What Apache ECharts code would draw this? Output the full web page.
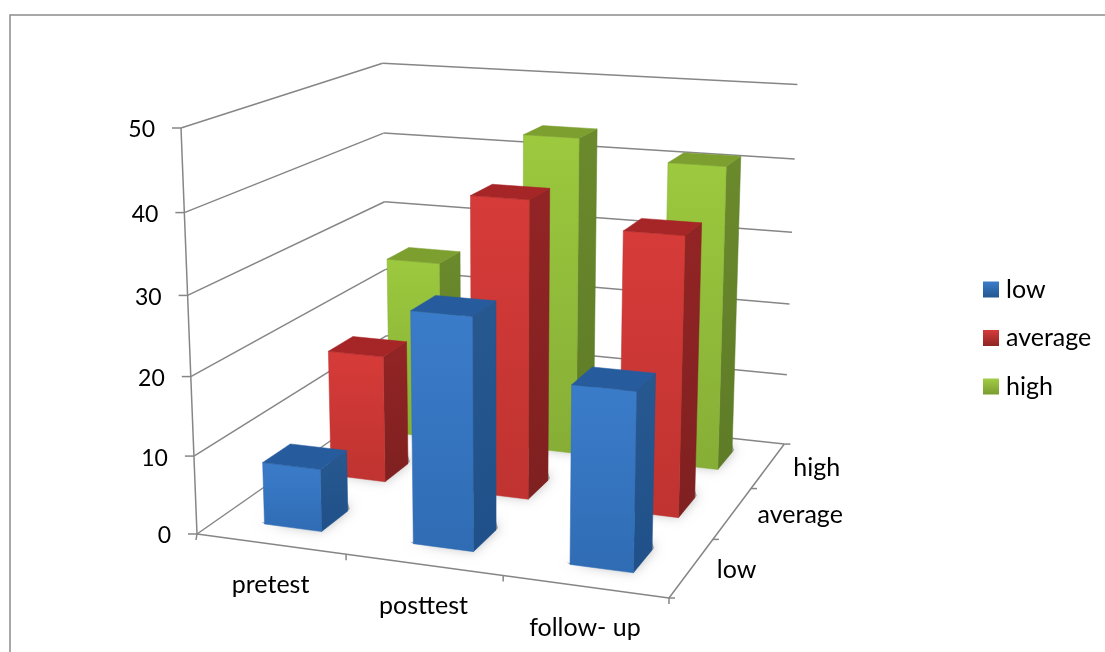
<!DOCTYPE html>
<html><head><meta charset="utf-8">
<style>html,body{margin:0;padding:0;background:#fff;overflow:hidden}#c{width:1105px;height:652px}</style>
<script src="https://cdn.jsdelivr.net/npm/echarts@6/dist/echarts.min.js"></script>
</head><body><div id="c"></div>
<script>
const categories = ['pretest', 'posttest', 'follow- up'];
const seriesNames = ['low', 'average', 'high'];
const valueTicks = [0, 10, 20, 30, 40, 50];
const low = [8, 29, 22];
const average = [17, 39, 36];
const high = [25, 43.5, 41];
const seriesValues = [low, average, high];

// Perspective frame of the 3D plot box (unit cube corners on screen)
const O = [197, 534], U = [669, 598], V = [387.5, 401], W = [181, 128];
const fits = [[1, 1, 1, 798, 84.5], [1, 1, 0, 784, 444], [0, 1, 1, 381, 63.5]];
function solvePerspective() {
  const rows = [];
  fits.forEach(([u, v, w, X, Y]) => {
    [[0, X], [1, Y]].forEach(([k, P]) => {
      rows.push([u * (U[k] - P), v * (V[k] - P), w * (W[k] - P),
        P - O[k] - u * (U[k] - O[k]) - v * (V[k] - O[k]) - w * (W[k] - O[k])]);
    });
  });
  const M = [0, 1, 2].map(i => [0, 1, 2, 3].map(j => rows.reduce((s, r) => s + r[i] * r[j], 0)));
  for (let i = 0; i < 3; i++) {
    let piv = i;
    for (let r = i + 1; r < 3; r++) if (Math.abs(M[r][i]) > Math.abs(M[piv][i])) piv = r;
    [M[i], M[piv]] = [M[piv], M[i]];
    for (let r = 0; r < 3; r++) if (r !== i) {
      const f = M[r][i] / M[i][i];
      for (let c = i; c < 4; c++) M[r][c] -= f * M[i][c];
    }
  }
  return [M[0][3] / M[0][0], M[1][3] / M[1][1], M[2][3] / M[2][2]];
}
const [pp, pq, pr] = solvePerspective();
function project(u, v, w) {
  const D = 1 + pp * u + pq * v + pr * w;
  return [0, 1].map(k => (O[k] + u * (U[k] * (1 + pp) - O[k]) + v * (V[k] * (1 + pq) - O[k]) + w * (W[k] * (1 + pr) - O[k])) / D);
}

const AXIS = '#868686', AW = 1.5, FONT = '25px Lato', VFONT = '23px Lato', TXT = '#000';
const grad = (a, b) => new echarts.graphic.LinearGradient(0, 0, 0, 1, [{ offset: 0, color: a }, { offset: 1, color: b }]);
const faces = [
  { front: ['#3b7cca', '#2f6cb4'], side: ['#27588f', '#205089'], top: '#265c9e', legend: ['#3a7ccb', '#24578f'] },
  { front: ['#d63b39', '#bf3330'], side: ['#932425', '#7f2020'], top: '#a62526', legend: ['#d43c3a', '#8e2424'] },
  { front: ['#9cc93e', '#86ae36'], side: ['#6b8a2c', '#5e7b27'], top: '#7c9f2f', legend: ['#a3cc46', '#7a9c30'] }
];
const line = (a, b) => ({ type: 'line', shape: { x1: a[0], y1: a[1], x2: b[0], y2: b[1] }, style: { stroke: AXIS, lineWidth: AW }, silent: true });
const label = (p, text, align, font) => ({ type: 'text', silent: true, style: { x: p[0], y: p[1], text, font: font || FONT, fill: TXT, align, verticalAlign: 'middle' } });
const poly = (pts, fill, extra) => ({ type: 'polygon', shape: { points: pts }, style: Object.assign({ fill }, extra || {}), silent: true });

function valueFrac(api, params, val) {
  const p = api.coord([0, val]);
  return (params.coordSys.y + params.coordSys.height - p[1]) / params.coordSys.height;
}
function catFrac(api, params, i) {
  const p = api.coord([i, 0]);
  return (p[0] - params.coordSys.x) / params.coordSys.width;
}
function renderValueTick(params, api) {
  const w = valueFrac(api, params, api.value(1));
  const a = project(0, 0, w), b = project(0, 1, w), c = project(1, 1, w);
  return { type: 'group', children: [
    line(a, b), line(b, c), line([a[0] - 9, a[1]], a),
    label([a[0] - 26, a[1] + 2], String(api.value(1)), 'right', VFONT)
  ] };
}
function renderCatTick(params, api) {
  const i = api.value(0), du = api.size([1, 0])[0] / params.coordSys.width;
  const uc = catFrac(api, params, i), ur = uc + du / 2;
  const e = project(ur, 0, 0), mid = project(uc, 0, 0);
  return { type: 'group', children: [
    line(e, [e[0], e[1] + 6]),
    label([mid[0], mid[1] + 41], categories[i], 'center')
  ] };
}
function renderDepthTick(params, api) {
  const j = api.value(2);
  const e = project(1, (j + 1) / 3, 0), mid = project(1, (j + 0.5) / 3, 0);
  return { type: 'group', children: [
    line(e, [e[0] + 6, e[1]]),
    label([mid[0] + 25, mid[1] + 2], seriesNames[j], 'left')
  ] };
}
function renderFrame() {
  return { type: 'group', children: [
    line(project(0, 0, 0), project(0, 0, 1)),
    line(project(0, 0, 0), project(1, 0, 0)),
    line(project(1, 0, 0), project(1, 1, 0)),
    line(project(0, 0, 0), [O[0] - 1, O[1] + 6]),
    line(U, [U[0] + 6, U[1]])
  ] };
}
const HALF_U = 0.065, HALF_V = 0.066, SHIFT_U = 0.002;
function renderBar(params, api) {
  const j = api.value(2), f = faces[j];
  const uc = catFrac(api, params, api.value(0)) + SHIFT_U;
  const w = valueFrac(api, params, api.value(1));
  const vc = (j + 0.5) / 3;
  const u0 = uc - HALF_U, u1 = uc + HALF_U, v0 = vc - HALF_V, v1 = vc + HALF_V;
  const fbl = project(u0, v0, 0), fbr = project(u1, v0, 0), bbr = project(u1, v1, 0);
  const ftl = project(u0, v0, w), ftr = project(u1, v0, w), btr = project(u1, v1, w), btl = project(u0, v1, w);
  return { type: 'group', children: [
    poly([[fbl[0] - 3, fbl[1] - 2], [fbr[0], fbr[1] - 1], [bbr[0] + 2, bbr[1] - 2], [bbr[0], bbr[1] - 8], fbl],
      'rgba(70,70,70,0.45)', { shadowBlur: 12, shadowColor: 'rgba(0,0,0,0.6)' }),
    poly([fbr, bbr, btr, ftr], grad(f.side[0], f.side[1]), { stroke: f.side[1], lineWidth: 0.5 }),
    poly([fbl, fbr, ftr, ftl], grad(f.front[0], f.front[1]), { stroke: f.front[1], lineWidth: 0.5 }),
    poly([ftl, ftr, btr, btl], f.top, { stroke: f.top, lineWidth: 0.5 })
  ] };
}

const barSeries = seriesNames.map((name, j) => ({
  name, type: 'custom', coordinateSystem: 'cartesian2d', renderItem: renderBar, z: 5 + (2 - j),
  encode: { x: 0, y: 1 },
  itemStyle: { color: grad(faces[j].legend[0], faces[j].legend[1]) },
  data: seriesValues[j].map((v, i) => [i, v, j])
}));
// rows are painted back to front, so the nearest row comes last
barSeries.reverse();

const chart = echarts.init(document.getElementById('c'), null, { renderer: 'canvas' });
chart.setOption({
  animation: false,
  backgroundColor: '#fff',
  graphic: [{ type: 'rect', shape: { x: 10, y: 15, width: 1300, height: 900 }, style: { fill: 'none', stroke: '#8c8c8c', lineWidth: 1.5 }, silent: true, z: 0 }],
  grid: { left: 197, top: 128, width: 472, height: 406 },
  xAxis: { type: 'category', data: categories, show: false },
  yAxis: { type: 'value', min: 0, max: 50, interval: 10, show: false },
  legend: {
    orient: 'vertical', left: 978, top: 270, itemWidth: 16, itemHeight: 16, itemGap: 19.5, selectedMode: false,
    icon: 'rect',
    data: seriesNames,
    textStyle: { fontFamily: 'Lato', fontSize: 25, color: TXT, padding: [0, 0, 0, 2], lineHeight: 29 }
  },
  series: [
    { name: 'valueTicks', type: 'custom', renderItem: renderValueTick, z: 2, silent: true, data: valueTicks.map(v => [0, v]), encode: { x: 0, y: 1 } },
    { name: 'frame', type: 'custom', renderItem: renderFrame, z: 2, silent: true, data: [[0, 0]], encode: { x: 0, y: 1 } },
    { name: 'catTicks', type: 'custom', renderItem: renderCatTick, z: 2, silent: true, data: categories.map((c, i) => [i, 0]), encode: { x: 0, y: 1 } },
    { name: 'depthTicks', type: 'custom', renderItem: renderDepthTick, z: 2, silent: true, data: seriesNames.map((s, j) => [0, 0, j]), encode: { x: 0, y: 1 } }
  ].concat(barSeries)
});
</script></body></html>
